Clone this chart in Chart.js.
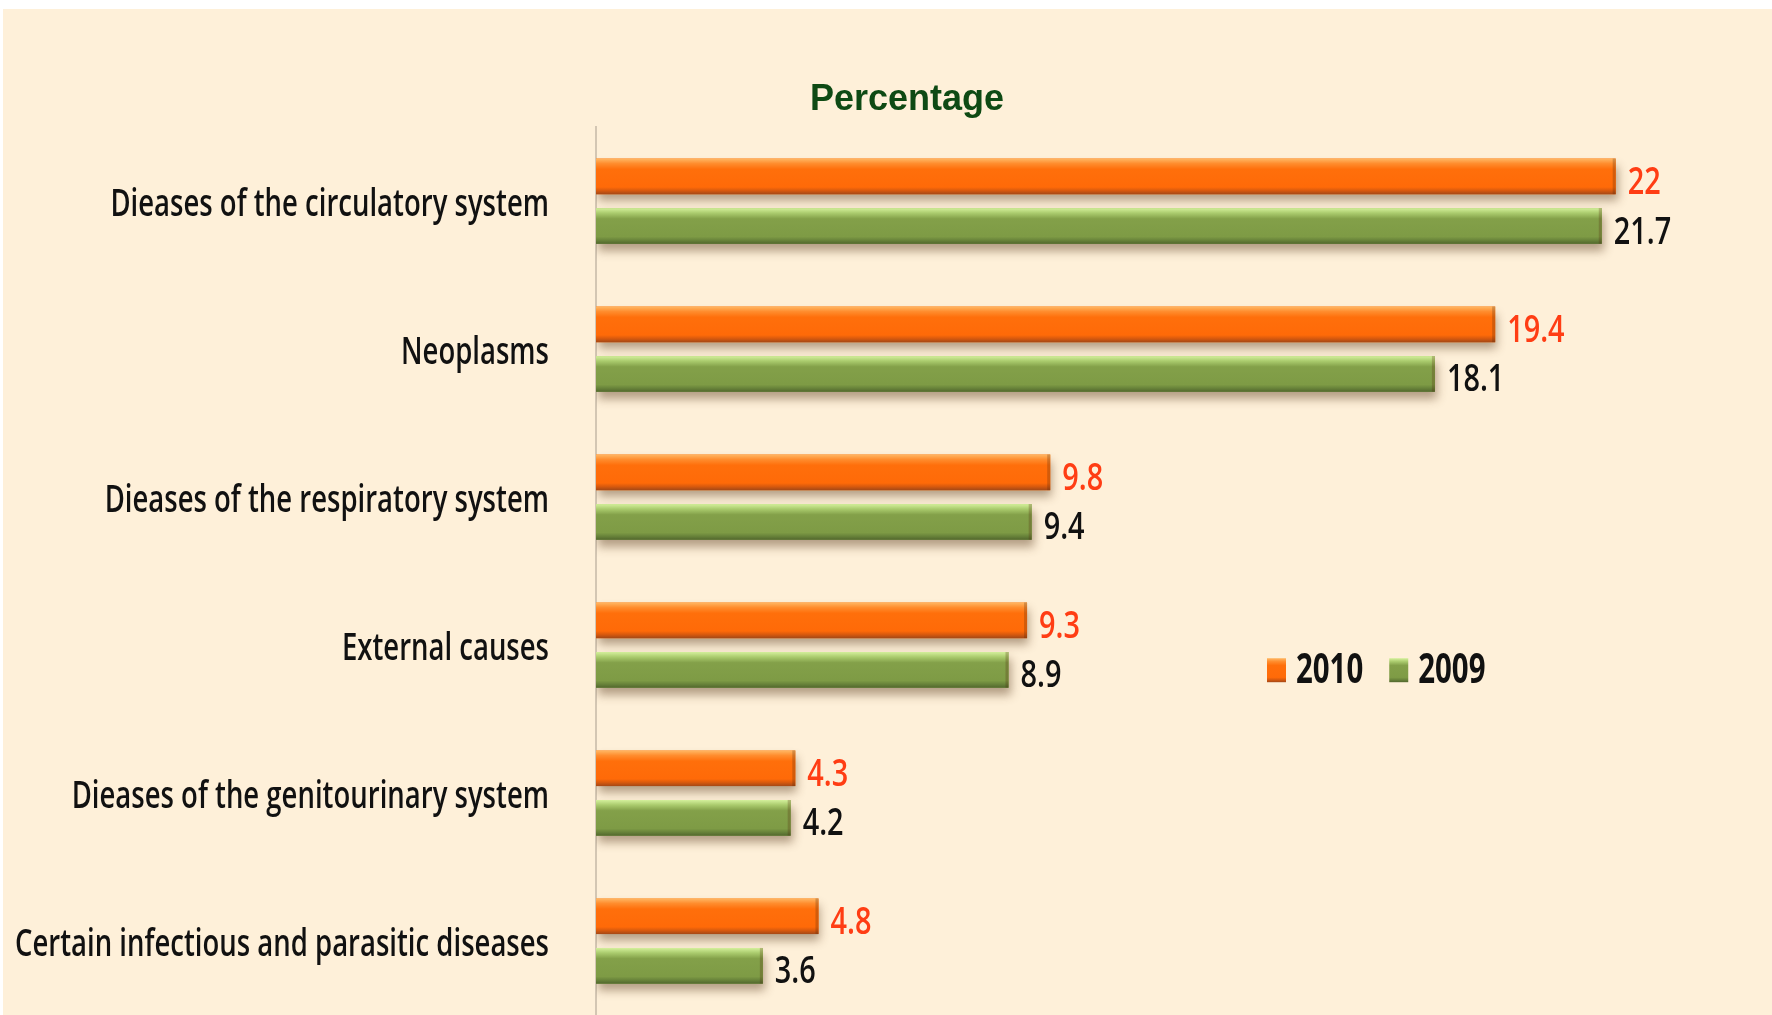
<!DOCTYPE html>
<html>
<head>
<meta charset="utf-8">
<script src="https://cdn.jsdelivr.net/npm/chart.js"></script>
<style>
  html, body { margin: 0; padding: 0; background: #fff; }
</style>
</head>
<body>
<canvas id="myChart" width="1772" height="1015"></canvas>
<script>
var categories = [
  'Dieases of the circulatory system',
  'Neoplasms',
  'Dieases of the respiratory system',
  'External causes',
  'Dieases of the genitourinary system',
  'Certain infectious and parasitic diseases'
];
var seriesNames = ['2010', '2009'];
var values2010 = [22, 19.4, 9.8, 9.3, 4.3, 4.8];
var values2009 = [21.7, 18.1, 9.4, 8.9, 4.2, 3.6];

var face = "'Open Sans', 'Noto Sans', sans-serif";

// vertical shading for each bar colour
var shades = {
  orange: [[0, '#ffb865'], [0.14, '#ff8d2e'], [0.3, '#ff6f0b'], [0.8, '#ff6a08'], [0.9, '#d7590e'], [1, '#a44816']],
  green: [[0, '#d4f09c'], [0.14, '#aacb6d'], [0.3, '#83a049'], [0.8, '#7e9b45'], [0.9, '#68833a'], [1, '#52672d']]
};

function shadeFill(ctx, top, bottom, stops) {
  var g = ctx.createLinearGradient(0, top, 0, bottom);
  stops.forEach(function (s) { g.addColorStop(s[0], s[1]); });
  return g;
}

// the original uses a condensed face, so squeeze the text sideways
function narrowText(c, text, x, y, align, sx) {
  c.save();
  c.translate(x, y);
  c.scale(sx, 1);
  c.textAlign = align;
  c.fillText(text, 0, 0);
  c.restore();
}

var backdrop = {
  id: 'backdrop',
  beforeDraw: function (chart) {
    var c = chart.ctx;
    c.save();
    c.fillStyle = '#ffffff';
    c.fillRect(0, 0, chart.width, chart.height);
    c.fillStyle = '#fef0d9';
    c.fillRect(3, 9, chart.width - 3, chart.height - 9);
    c.restore();
  }
};

var barLook = {
  id: 'barLook',
  beforeDatasetsDraw: function (chart) {
    var c = chart.ctx;
    c.save();
    c.shadowColor = 'rgba(90, 60, 30, 0.45)';
    c.shadowBlur = 9;
    c.shadowOffsetX = 2;
    c.shadowOffsetY = 7;
  },
  afterDatasetsDraw: function (chart) {
    var c = chart.ctx;
    c.restore();
    chart.data.datasets.forEach(function (ds, di) {
      var meta = chart.getDatasetMeta(di);
      meta.data.forEach(function (bar, i) {
        var top = bar.y - bar.height / 2;
        var bottom = bar.y + bar.height / 2;
        c.save();
        c.fillStyle = shadeFill(c, top, bottom, shades[ds.shade]);
        c.fillRect(bar.base, top, bar.x - bar.base, bar.height);
        c.fillStyle = 'rgba(80, 40, 10, 0.25)';
        c.fillRect(bar.x - 3, top, 3, bar.height);
        c.restore();

        c.save();
        c.font = '600 37px ' + face;
        c.fillStyle = ds.labelColor;
        c.textBaseline = 'middle';
        narrowText(c, String(ds.data[i]), bar.x + 12, bar.y + 7, 'left', 0.78);
        c.restore();
      });
    });
  }
};

var catLabels = {
  id: 'catLabels',
  afterDraw: function (chart) {
    var c = chart.ctx;
    var yScale = chart.scales.y;
    c.save();
    c.font = '600 37px ' + face;
    c.fillStyle = '#111';
    c.textBaseline = 'middle';
    // squeeze so the longest label spans the same width as in the original
    var longest = chart.data.labels.reduce(function (a, b) { return a.length > b.length ? a : b; });
    var sx = 534 / c.measureText(longest).width;
    chart.data.labels.forEach(function (lab, i) {
      narrowText(c, lab, chart.chartArea.left - 47, yScale.getPixelForTick(i) + 4, 'right', sx);
    });
    c.restore();
  }
};

var boxLegend = {
  id: 'boxLegend',
  afterDraw: function (chart) {
    var c = chart.ctx;
    var area = chart.chartArea;
    var x = area.left + 671;
    var y = area.top + 543;
    c.save();
    c.font = 'bold 42px ' + face;
    c.textBaseline = 'middle';
    chart.data.datasets.forEach(function (ds) {
      c.fillStyle = shadeFill(c, y - 12, y + 12, shades[ds.shade]);
      c.fillRect(x, y - 12, 19, 24);
      c.fillStyle = '#111';
      narrowText(c, ds.label, x + 29, y + 1, 'left', 0.7);
      x += 29 + c.measureText(ds.label).width * 0.7 + 26;
    });
    c.restore();
  }
};

var ctx = document.getElementById('myChart').getContext('2d');
var myChart = new Chart(ctx, {
  type: 'bar',
  data: {
    labels: categories,
    datasets: [{
      label: seriesNames[0],
      data: values2010,
      backgroundColor: '#ff6e0a',
      shade: 'orange',
      labelColor: '#ff3d14',
      categoryPercentage: 0.67,
      barPercentage: 0.72
    }, {
      label: seriesNames[1],
      data: values2009,
      backgroundColor: '#7f9d46',
      shade: 'green',
      labelColor: '#111111',
      categoryPercentage: 0.67,
      barPercentage: 0.72
    }]
  },
  options: {
    indexAxis: 'y',
    responsive: false,
    animation: false,
    layout: { padding: { left: 50, right: 8, top: 0, bottom: 0 } },
    scales: {
      x: { display: false, min: 0, max: 25.2 },
      y: {
        grid: { display: false, drawTicks: false },
        border: { display: true, color: '#d3c6b3', width: 2 },
        ticks: { display: false },
        afterFit: function (scale) { scale.width = 546; }
      }
    },
    plugins: {
      legend: { display: false },
      tooltip: { enabled: false },
      title: {
        display: true,
        text: 'Percentage',
        color: '#0e4a14',
        font: { family: "'Liberation Sans', sans-serif", size: 36, weight: 'bold' },
        padding: { top: 78, bottom: 6 }
      }
    }
  },
  plugins: [backdrop, barLook, catLabels, boxLegend]
});
</script>
</body>
</html>
